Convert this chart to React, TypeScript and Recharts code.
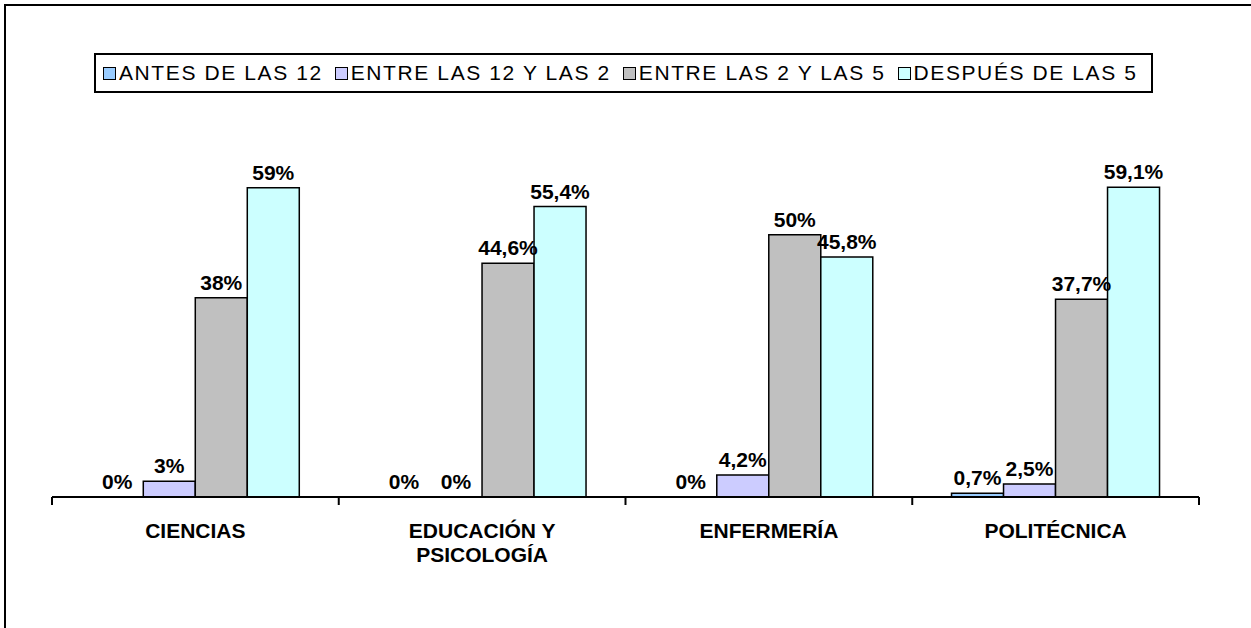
import React from "react";
import { BarChart, Bar, XAxis, YAxis, Legend, LabelList } from "recharts";

const categories = ["CIENCIAS", "EDUCACIÓN Y\nPSICOLOGÍA", "ENFERMERÍA", "POLITÉCNICA"];
const seriesNames = ["ANTES DE LAS 12", "ENTRE LAS 12 Y LAS 2", "ENTRE LAS 2 Y LAS 5", "DESPUÉS DE LAS 5"];
const antes12 = [0, 0, 0, 0.7];
const entre12y2 = [3, 0, 4.2, 2.5];
const entre2y5 = [38, 44.6, 50, 37.7];
const despues5 = [59, 55.4, 45.8, 59.1];
const boundaryTicks = [0, 1, 2, 3, 4];

const colors = ["#99CCFF", "#CCCCFF", "#C0C0C0", "#CCFFFF"];
const keys = ["s1", "s2", "s3", "s4"];
const FONT = '"Liberation Sans", Arial, sans-serif';

const data = categories.map((name, i) => ({
  name,
  pos: i + 0.5,
  s1: antes12[i],
  s2: entre12y2[i],
  s3: entre2y5[i],
  s4: despues5[i],
}));

const fmt = (v: any) => `${String(v).replace(".", ",")}%`;

function CategoryTick(props: any) {
  const { x, y, payload } = props;
  const lines = String(payload.value).split("\n");
  return (
    <text x={x} y={y} textAnchor="middle" fontFamily={FONT} fontWeight="bold" fontSize={21} fill="#000">
      {lines.map((l, i) => (
        <tspan key={i} x={x} dy={i === 0 ? 31 : 24}>
          {l}
        </tspan>
      ))}
    </text>
  );
}

function ValueLabel(props: any) {
  const { x, y, width, value } = props;
  return (
    <text
      x={Number(x) + Number(width) / 2}
      y={Number(y) - 8}
      textAnchor="middle"
      fontFamily={FONT}
      fontWeight="bold"
      fontSize={21}
      fill="#000"
    >
      {fmt(value)}
    </text>
  );
}

function LegendBox() {
  return (
    <div
      style={{
        border: "2px solid #000",
        height: 36,
        display: "flex",
        alignItems: "center",
        paddingLeft: 7,
        fontFamily: FONT,
        fontSize: 21,
        letterSpacing: 1.6,
        background: "#fff",
        whiteSpace: "nowrap",
      }}
    >
      {seriesNames.map((name, i) => (
        <span key={name} style={{ display: "flex", alignItems: "center", marginRight: 12 }}>
          <span
            style={{
              display: "inline-block",
              width: 11,
              height: 11,
              border: "1.5px solid #000",
              background: colors[i],
              marginRight: 3,
            }}
          />
          {name}
        </span>
      ))}
    </div>
  );
}

export default function App() {
  return (
    <div style={{ position: "absolute", left: 0, top: 0, width: 1251, height: 628, overflow: "hidden", background: "#fff" }}>
      <div
        style={{
          position: "absolute",
          left: 4,
          top: 4,
          width: 1300,
          height: 700,
          border: "2px solid #000",
        }}
      />
      <div style={{ position: "absolute", left: 0, top: 0 }}>
        <BarChart
          width={1251}
          height={628}
          data={data}
          margin={{ top: 130, right: 52, left: 52, bottom: 40 }}
          barCategoryGap="13.7%"
          barGap={0}
        >
          <XAxis
            xAxisId="bounds"
            type="number"
            dataKey="pos"
            domain={[0, 4]}
            ticks={boundaryTicks}
            allowDataOverflow
            orientation="bottom"
            height={10}
            tick={() => <g />}
            axisLine={{ stroke: "#000", strokeWidth: 2 }}
            tickLine={{ stroke: "#000", strokeWidth: 2 }}
            tickSize={8}
          />
          <XAxis
            xAxisId="cat"
            dataKey="name"
            height={81}
            interval={0}
            axisLine={false}
            tickLine={false}
            tickSize={0}
            tickMargin={0}
            tick={<CategoryTick />}
          />
          <YAxis hide domain={[0, 70]} />
          <Legend
            layout="horizontal"
            verticalAlign="middle"
            align="center"
            content={<LegendBox />}
            wrapperStyle={{ top: 53, left: 94, width: 1059, height: 40 }}
          />
          {keys.map((k, i) => (
            <Bar
              key={k}
              xAxisId="cat"
              dataKey={k}
              name={seriesNames[i]}
              fill={colors[i]}
              stroke="#000"
              strokeWidth={1.5}
              minPointSize={0.01}
              isAnimationActive={false}
            >
              <LabelList dataKey={k} content={<ValueLabel />} />
            </Bar>
          ))}
        </BarChart>
      </div>
    </div>
  );
}
